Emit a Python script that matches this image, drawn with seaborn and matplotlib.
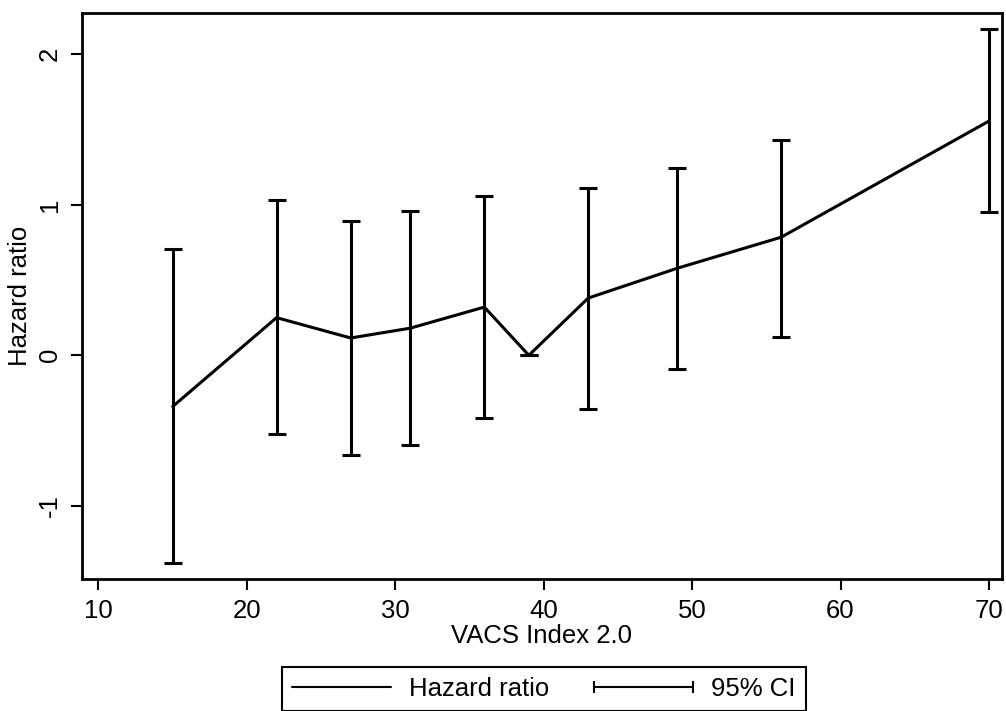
import matplotlib
matplotlib.use("Agg")
import matplotlib.pyplot as plt
import seaborn as sns
import pandas as pd
import numpy as np
from matplotlib.lines import Line2D
from matplotlib.legend_handler import HandlerLine2D

# values
vacs_index = [15, 22, 27, 31, 36, 39, 43, 49, 56, 70]
hazard_ratio = [-0.34, 0.25, 0.115, 0.18, 0.32, 0.0, 0.38, 0.578, 0.784, 1.555]
ci_low = [-1.38, -0.525, -0.66, -0.593, -0.414, 0.0, -0.357, -0.093, 0.124, 0.951]
ci_high = [0.704, 1.031, 0.892, 0.957, 1.058, 0.0, 1.114, 1.246, 1.43, 2.169]
x_ticks = [10, 20, 30, 40, 50, 60, 70]
y_ticks = [-1, 0, 1, 2]

df = pd.DataFrame({"VACS Index 2.0": vacs_index, "Hazard ratio": hazard_ratio,
                   "lo": ci_low, "hi": ci_high})

sns.set_theme(style="white")
plt.rcParams["font.family"] = ["Liberation Sans", "DejaVu Sans"]
plt.rcParams["text.color"] = "black"
plt.rcParams["axes.labelcolor"] = "black"
plt.rcParams["xtick.color"] = "black"
plt.rcParams["ytick.color"] = "black"
fs = 18.5

fig = plt.figure(figsize=(10.06, 7.11), dpi=100)
ax = fig.add_axes([0.0815, 0.1857, 0.9142, 0.7965])

# 95% CI bars
yerr = np.array([df["Hazard ratio"] - df["lo"], df["hi"] - df["Hazard ratio"]])
ax.errorbar(df["VACS Index 2.0"], df["Hazard ratio"], yerr=yerr, fmt="none",
            ecolor="black", elinewidth=2.2, capsize=6.5, capthick=2.2)

# hazard ratio line
sns.lineplot(data=df, x="VACS Index 2.0", y="Hazard ratio", color="black",
             linewidth=2.2, ax=ax, legend=False)

ax.set_xlim(8.89, 70.86)
ax.set_ylim(-1.485, 2.275)
ax.set_xticks(x_ticks)
ax.set_yticks(y_ticks)
ax.set_yticklabels([str(v) for v in y_ticks], rotation=90, va="center")
ax.tick_params(axis="both", direction="out", length=8, width=1.5, color="black",
               labelsize=fs, labelcolor="black", pad=6.5, left=True, bottom=True)
ax.set_xlabel("VACS Index 2.0", fontsize=fs, labelpad=1, color="black")
ax.set_ylabel("Hazard ratio", fontsize=fs, labelpad=4, color="black")
for s in ax.spines.values():
    s.set_color("black")
    s.set_linewidth(2)

# legend below the plot
h_line = Line2D([], [], color="black", linewidth=1.5)
h_ci = Line2D([], [], color="black", linewidth=1.5, marker="|", markersize=8,
              markeredgewidth=1.5)
leg = fig.legend([h_line, h_ci], ["Hazard ratio", "95% CI"], ncol=2,
                 loc="upper center", bbox_to_anchor=(0.5408, 1 - 666.7 / 711),
                 bbox_transform=fig.transFigure, fontsize=fs, frameon=True,
                 fancybox=False, edgecolor="black", framealpha=1,
                 handlelength=3.84, handletextpad=0.71, columnspacing=1.75,
                 borderpad=0.4, borderaxespad=0,
                 handler_map={h_ci: HandlerLine2D(numpoints=2, marker_pad=0)})
leg.get_frame().set_linewidth(1.5)
for t in leg.get_texts():
    t.set_color("black")

fig.savefig("out.png", dpi=100)
